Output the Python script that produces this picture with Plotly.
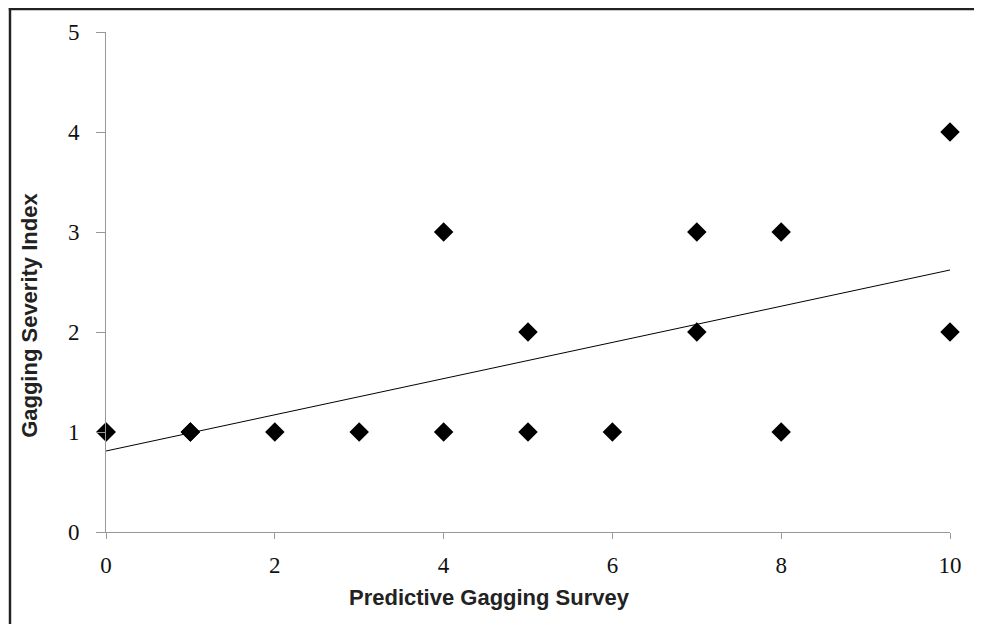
import plotly.graph_objects as go

survey_scores = [0, 0, 1, 1, 2, 3, 4, 4, 5, 5, 6, 7, 7, 8, 8, 10, 10]
severity_index = [1, 1, 1, 1, 1, 1, 1, 3, 1, 2, 1, 2, 3, 1, 3, 2, 4]

trend_x = [0, 10]
trend_y = [0.81, 2.62]

x_ticks = [0, 2, 4, 6, 8, 10]
y_ticks = [0, 1, 2, 3, 4, 5]

fig = go.Figure()
fig.add_trace(go.Scatter(
    x=trend_x, y=trend_y, mode="lines",
    line=dict(color="black", width=1), showlegend=False, cliponaxis=False,
))
fig.add_trace(go.Scatter(
    x=survey_scores, y=severity_index, mode="markers",
    marker=dict(symbol="diamond", size=15, color="black"),
    showlegend=False, cliponaxis=False,
))

axis_common = dict(
    showgrid=False, zeroline=False, showline=True, linecolor="#999999", linewidth=1,
    ticks="outside", tickcolor="#999999", tickwidth=1,
    tickfont=dict(family="Liberation Serif", size=23, color="#111111"),
)
fig.update_xaxes(range=[0, 10], tickvals=x_ticks, ticklen=6, ticklabelstandoff=6, **axis_common)
fig.update_yaxes(range=[0, 5], tickvals=y_ticks, ticklen=9, ticklabelstandoff=12, **axis_common)

fig.update_layout(
    width=966, height=616,
    margin=dict(l=98, r=12, t=24, b=92),
    plot_bgcolor="white", paper_bgcolor="white",
    shapes=[
        dict(type="rect", xref="paper", yref="paper",
             x0=-0.1152, x1=1.05, y0=1.0435, y1=1.0485,
             line=dict(width=0), fillcolor="#222222", layer="above"),
        dict(type="rect", xref="paper", yref="paper",
             x0=-0.1152, x1=-0.1123, y0=-0.2, y1=1.0485,
             line=dict(width=0), fillcolor="#222222", layer="above"),
    ],
    annotations=[
        dict(text="<b>Predictive Gagging Survey</b>", xref="paper", yref="paper",
             x=0.4548, y=-0.13, xanchor="center", yanchor="middle", showarrow=False,
             font=dict(family="Liberation Sans", size=22, color="#222222")),
        dict(text="<b>Gagging Severity Index</b>", xref="paper", yref="paper",
             x=-0.0914, y=0.434, xanchor="center", yanchor="middle", showarrow=False,
             textangle=-90, font=dict(family="Liberation Sans", size=22, color="#222222")),
    ],
)
fig.write_html("out.html")
